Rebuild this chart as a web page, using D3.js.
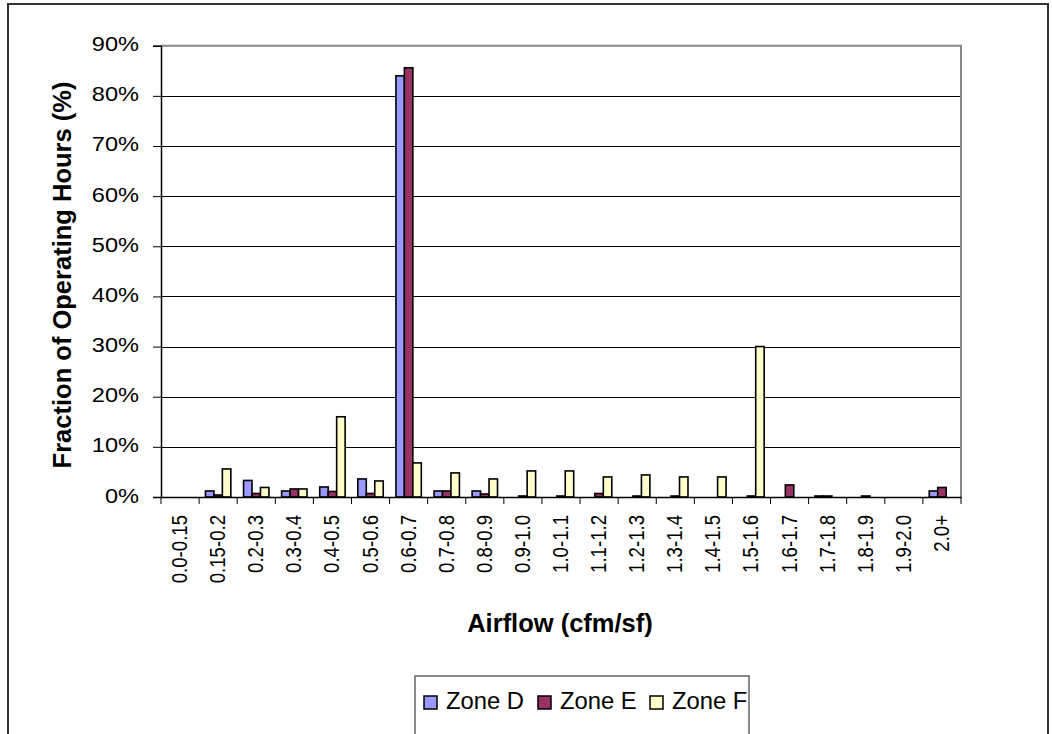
<!DOCTYPE html>
<html>
<head>
<meta charset="utf-8">
<script src="https://cdn.jsdelivr.net/npm/d3@7/dist/d3.min.js"></script>
<style>
  html, body { margin: 0; padding: 0; background: #fff; }
  svg { display: block; font-family: "Liberation Sans", Arial, sans-serif; }
</style>
</head>
<body>
<svg id="chart" width="1052" height="734"></svg>
<script>
const categories = ["0.0-0.15","0.15-0.2","0.2-0.3","0.3-0.4","0.4-0.5","0.5-0.6","0.6-0.7","0.7-0.8","0.8-0.9","0.9-1.0","1.0-1.1","1.1-1.2","1.2-1.3","1.3-1.4","1.4-1.5","1.5-1.6","1.6-1.7","1.7-1.8","1.8-1.9","1.9-2.0","2.0+"];
const seriesNames = ["Zone D","Zone E","Zone F"];
const zoneD = [0, 1.2, 3.3, 1.2, 2.0, 3.6, 84.0, 1.2, 1.2, 0, 0, 0, 0, 0, 0, 0, 0, 0.2, 0, 0, 1.2];
const zoneE = [0, 0.4, 0.7, 1.6, 1.1, 0.7, 85.6, 1.2, 0.6, 0.2, 0.2, 0.7, 0.2, 0.2, 0, 0.2, 2.4, 0.2, 0.2, 0, 1.9];
const zoneF = [0, 5.6, 1.9, 1.6, 16.0, 3.2, 6.8, 4.8, 3.6, 5.2, 5.2, 4.0, 4.4, 4.0, 4.0, 30.0, 0, 0, 0, 0, 0];
const yTicks = [0,10,20,30,40,50,60,70,80,90];
const colors = ["#9999FF","#993366","#FFFFCC"];

(function () {
const seriesValues = [zoneD, zoneE, zoneF];
const svg = d3.select("#chart");

// outer chart frame
svg.append("rect").attr("x",8).attr("y",4).attr("width",1040).attr("height",760)
  .attr("fill","#fff").attr("stroke","#333").attr("stroke-width",2);

const pLeft = 161, pRight = 961, pTop = 45.7, pBottom = 497;
const x0 = d3.scaleBand().domain(categories).range([pLeft, pRight]).padding(0);
const bw = x0.bandwidth();
const gap = bw / 4.5 * 1.5;
const x1 = d3.scaleBand().domain(seriesNames).range([gap/2, bw - gap/2]).padding(0);
const y = d3.scaleLinear().domain([0, 90]).range([pBottom, pTop]);

// gridlines
svg.append("g").selectAll("line").data(yTicks.filter(d => d > 0 && d < 90)).join("line")
  .attr("x1", pLeft).attr("x2", pRight)
  .attr("y1", d => Math.round(y(d)) + 0.5).attr("y2", d => Math.round(y(d)) + 0.5)
  .attr("stroke", "#000").attr("stroke-width", 1);

// plot area border (top + right gray)
svg.append("path")
  .attr("d", `M${pLeft},${pTop}H${pRight}V${pBottom}`)
  .attr("fill","none").attr("stroke","#888").attr("stroke-width",2);

// bars
const g = svg.append("g");
seriesNames.forEach((s, si) => {
  g.append("g").selectAll("rect").data(seriesValues[si].map((v, i) => ({c: categories[i], v})))
    .join("rect")
    .attr("x", d => x0(d.c) + x1(s))
    .attr("width", x1.bandwidth())
    .attr("y", d => y(d.v))
    .attr("height", d => y(0) - y(d.v))
    .attr("fill", colors[si])
    .attr("stroke", d => d.v > 0 ? "#000" : "none")
    .attr("stroke-width", 1.6);
});

// y axis
const yAxis = d3.axisLeft(y).tickValues(yTicks).tickFormat(d => d + "%").tickSize(8).tickPadding(0);
const ya = svg.append("g").attr("transform", `translate(${pLeft},0)`).call(yAxis);
ya.select(".domain").attr("stroke","#000").attr("stroke-width",1.5);
ya.selectAll(".tick line").attr("stroke","#000").attr("stroke-width",1);
ya.selectAll(".tick text").remove();
ya.selectAll(".tick").append("text")
  .attr("transform", "translate(-22,5) scale(1.15,1)")
  .attr("text-anchor","end").attr("fill","#000")
  .style("font-size","20.5px")
  .text(d => d + "%");

// x axis
const xAxis = d3.axisBottom(x0).tickSize(0).tickFormat("");
const xa = svg.append("g").attr("transform", `translate(0,${pBottom})`).call(xAxis);
xa.select(".domain").attr("stroke","#000").attr("stroke-width",1.5);
xa.selectAll(".tick").remove();
const bounds = categories.map(c => x0(c)).concat([pRight]);
xa.append("g").selectAll("line").data(bounds).join("line")
  .attr("x1", d => d).attr("x2", d => d).attr("y1", 0).attr("y2", 7)
  .attr("stroke","#000").attr("stroke-width",1);
xa.append("g").selectAll("text").data(categories).join("text")
  .attr("transform", d => `translate(${x0(d) + bw/2 + 7},18) rotate(-90) scale(1,1.15)`)
  .attr("text-anchor","end").attr("fill","#000")
  .style("font-size","18.6px")
  .text(d => d);

// axis titles
svg.append("text")
  .attr("transform", "translate(71,275) rotate(-90)")
  .attr("text-anchor","middle").attr("font-weight","bold")
  .style("font-size","25.5px").text("Fraction of Operating Hours (%)");
svg.append("text")
  .attr("x", 560).attr("y", 632)
  .attr("text-anchor","middle").attr("font-weight","bold")
  .style("font-size","25.5px").text("Airflow (cfm/sf)");

// legend
const lg = svg.append("g");
lg.append("rect").attr("x",415).attr("y",676).attr("width",334).attr("height",80)
  .attr("fill","#fff").attr("stroke","#666").attr("stroke-width",1.5);
const legendX = [424, 538, 650];
seriesNames.forEach((s, i) => {
  lg.append("rect").attr("x", legendX[i]).attr("y", 696).attr("width", 13).attr("height", 13)
    .attr("fill", colors[i]).attr("stroke","#000").attr("stroke-width",1.5);
  lg.append("text").attr("x", legendX[i] + 22).attr("y", 709)
    .style("font-size","23.8px").attr("fill","#000").text(s);
});
})();
</script>
</body>
</html>
